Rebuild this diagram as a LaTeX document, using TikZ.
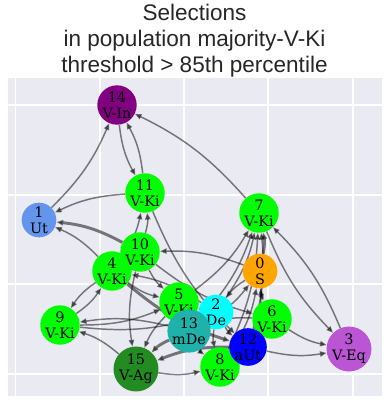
\documentclass[tikz,border=0pt]{standalone}
\usepackage{fontspec}
\newfontfamily\titlefont{Liberation Sans}
\newfontfamily\labelfont{DejaVu Serif}
\usetikzlibrary{arrows.meta}

\definecolor{panel}{HTML}{EAEAF2}
\definecolor{cS}{HTML}{FFA500}
\definecolor{cUt}{HTML}{6495ED}
\definecolor{cDe}{HTML}{00FFFF}
\definecolor{cEq}{HTML}{BA55D3}
\definecolor{cKi}{HTML}{00FF00}
\definecolor{caUt}{HTML}{0000FF}
\definecolor{cmDe}{HTML}{20B2AA}
\definecolor{cIn}{HTML}{800080}
\definecolor{cAg}{HTML}{228B22}

\pgfdeclarelayer{back}
\pgfdeclarelayer{edges}
\pgfsetlayers{back,edges,main}

\begin{document}
\begin{tikzpicture}[
  x=0.75pt, y=-0.75pt,
  vertex/.style={circle, inner sep=0pt, minimum size=26pt, align=center,
    font=\labelfont\fontsize{10.8}{12}\selectfont},
  edge/.style={-{Triangle[length=5pt,width=4pt]}, line width=1.1pt, draw=black,
    opacity=0.5, bend right=11},
  heavy/.style={edge, line width=2.2pt},
  title/.style={anchor=base, font=\titlefont\fontsize{16.9}{19.5}\selectfont, text=black!85}
]
\useasboundingbox (0,0) rectangle (389,404);

% panel and grid
\begin{pgfonlayer}{back}
\fill[panel] (8,78) rectangle (382,396);
\foreach \gx in {15.7,100,184,268,353}
  \draw[white, line width=1.1pt] (\gx,78) -- (\gx,396);
\foreach \gy in {105,195,284,374}
  \draw[white, line width=1.1pt] (8,\gy) -- (382,\gy);
\end{pgfonlayer}

% title
\node[title] (title1) at (194.5,20) {Selections};
\node[title] (title2) at (194.5,46) {in population majority-V-Ki};
\node[title] (title3) at (194.5,72) {threshold > 85th percentile};

% nodes
\node[vertex, fill=cS]   (n0)  at (260,271) {0\\S};
\node[vertex, fill=cUt]  (n1)  at (39,220)  {1\\Ut};
\node[vertex, fill=cDe]  (n2)  at (216,312) {2\\De};
\node[vertex, fill=cEq]  (n3)  at (349,349) {3\\V-Eq};
\node[vertex, fill=cKi]  (n4)  at (112,271) {4\\V-Ki};
\node[vertex, fill=cKi]  (n5)  at (179,302) {5\\V-Ki};
\node[vertex, fill=cKi]  (n6)  at (272,319) {6\\V-Ki};
\node[vertex, fill=cKi]  (n7)  at (259,213) {7\\V-Ki};
\node[vertex, fill=cKi]  (n8)  at (220,367) {8\\V-Ki};
\node[vertex, fill=cKi]  (n9)  at (60,325)  {9\\V-Ki};
\node[vertex, fill=cKi]  (n10) at (140,252) {10\\V-Ki};
\node[vertex, fill=cKi]  (n11) at (145,193) {11\\V-Ki};
\node[vertex, fill=caUt] (n12) at (248,347) {12\\aUt};
\node[vertex, fill=cmDe] (n13) at (189,331) {13\\mDe};
\node[vertex, fill=cIn]  (n14) at (117,105) {14\\V-In};
\node[vertex, fill=cAg]  (n15) at (136,369) {15\\V-Ag};

% connectors
\begin{pgfonlayer}{edges}
\foreach \a/\b in {1/14, 14/11, 11/14, 7/14, 11/1, 4/1, 10/11, 4/11, 11/12,
    9/4, 4/9, 13/9, 15/9, 9/5, 9/2, 0/10, 10/5, 4/5, 2/4, 10/15, 5/15,
    15/8, 13/8, 2/12, 2/8, 7/3, 3/7, 6/3, 12/3, 0/6, 6/13, 12/0, 8/0,
    13/0, 0/2, 5/7, 2/7, 13/7, 8/7, 10/6, 12/7}
  \draw[edge] (n\a) to (n\b);
\foreach \a/\b in {10/1, 13/15, 12/15, 0/7, 4/12}
  \draw[heavy] (n\a) to (n\b);
\end{pgfonlayer}
\end{tikzpicture}
\end{document}
